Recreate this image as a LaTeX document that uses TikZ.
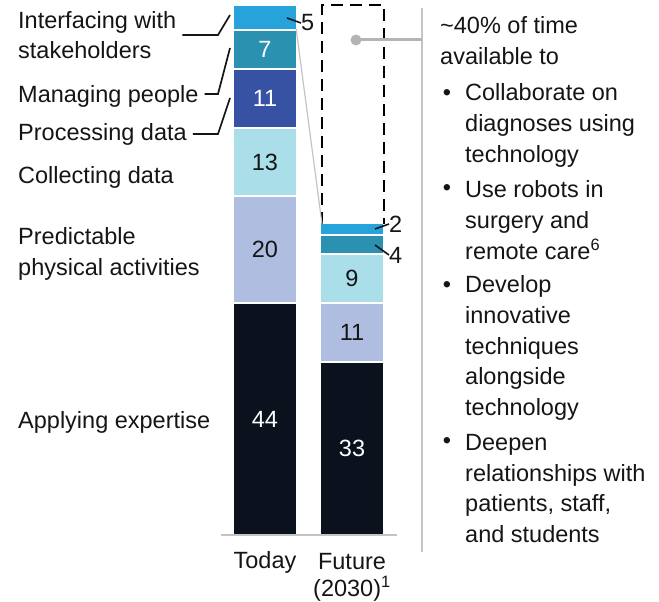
\documentclass[tikz,border=0pt]{standalone}
\usepackage{fontspec}
\setmainfont{Liberation Sans}

\definecolor{cfive}{HTML}{27A3DC}
\definecolor{cseven}{HTML}{2A91B1}
\definecolor{celeven}{HTML}{3852A3}
\definecolor{cthirteen}{HTML}{AADFEA}
\definecolor{ctwenty}{HTML}{AFBDE1}
\definecolor{cforty}{HTML}{0B121E}
\definecolor{ink}{HTML}{151515}
\definecolor{lightgray}{HTML}{C4C4C4}
\definecolor{dotgray}{HTML}{B4B4B4}

\begin{document}
\begin{tikzpicture}[x=1pt, y=-1pt,
	every node/.style={font=\fontsize{23.5}{30.7}\selectfont, text=ink},
	seg/.style={inner sep=0pt, minimum width=62pt, text=white},
	lbl/.style={anchor=west, align=left, inner sep=0pt},
	leader/.style={line width=1.7pt, ink},
	tick/.style={line width=1.6pt, ink}]

	\useasboundingbox (0,0) rectangle (659,602);

	% today
	\node[seg, fill=cforty, minimum height=230pt] (t44) at (265, 419) {44};
	\node[seg, fill=ctwenty, minimum height=105pt, text=ink] (t20) at (265, 249.5) {20};
	\node[seg, fill=cthirteen, minimum height=66pt, text=ink] (t13) at (265, 162) {13};
	\node[seg, fill=celeven, minimum height=57pt] (t11) at (265, 98.5) {11};
	\node[seg, fill=cseven, minimum height=37pt] (t7) at (265, 49.5) {7};
	\node[seg, fill=cfive, minimum height=23pt] (t5) at (265, 17.5) {};

	% future
	\node[seg, fill=cforty, minimum height=171pt] (f33) at (352, 448.5) {33};
	\node[seg, fill=ctwenty, minimum height=57pt, text=ink] (f11) at (352, 332.5) {11};
	\node[seg, fill=cthirteen, minimum height=47pt, text=ink] (f9) at (352, 278.5) {9};
	\node[seg, fill=cseven, minimum height=17pt] (f4) at (352, 244.5) {};
	\node[seg, fill=cfive, minimum height=10pt] (f2) at (352, 229) {};

	% freed time
	\coordinate (free-bl) at (322, 224);
	\coordinate (free-tl) at (322, 5);
	\coordinate (free-tr) at (384, 5);
	\coordinate (free-br) at (384, 224);
	\draw[line width=2.3pt, dash pattern=on 12pt off 7pt] (free-bl) -- (free-tl) -- (free-tr) -- (free-br);
	\draw[line width=1.2pt, lightgray] (t5.south east) -- (free-bl);

	% axis and divider
	\coordinate (axl) at (221, 535);
	\coordinate (axr) at (397, 535);
	\draw[line width=1.5pt, lightgray] (axl) -- (axr);
	\coordinate (septop) at (422, 8);
	\coordinate (sepbot) at (422, 552);
	\draw[line width=1.8pt, lightgray] (septop) -- (sepbot);
	\node[circle, fill=dotgray, inner sep=0pt, minimum size=11pt] (dot) at (356, 40) {};
	\draw[line width=3pt, dotgray] (dot.center) -- (dot -| septop);

	% small values
	\node[anchor=west, inner sep=0pt] (l5) at (301, 23) {5};
	\node[anchor=west, inner sep=0pt] (l2) at (389, 224) {2};
	\node[anchor=west, inner sep=0pt] (l4) at (389, 255) {4};
	\coordinate (t5tick) at (287, 18);
	\coordinate (f2tick) at (375, 229);
	\coordinate (f4tick) at (375, 245);
	\draw[tick] (t5tick) -- (l5.west);
	\draw[tick] (f2tick) -- (l2.west);
	\draw[tick] (f4tick) -- (l4.west);

	% left labels
	\node[lbl] (lifs) at (18, 35) {Interfacing with\\stakeholders};
	\node[lbl] (lmp) at (18, 96) {Managing people};
	\node[lbl] (lpd) at (18, 134) {Processing data};
	\node[lbl] (lcd) at (18, 177) {Collecting data};
	\node[lbl] (lpa) at (18, 254) {Predictable\\physical activities};
	\node[lbl] (lae) at (18, 422) {Applying expertise};

	\coordinate (knee) at (218, 0);
	\coordinate (ifs-end) at (230, 15);
	\coordinate (mp-end) at (230, 48);
	\coordinate (pd-end) at (230, 98);
	\draw[leader] ([xshift=6pt]lifs.east) -- (lifs.east -| knee) -- (ifs-end);
	\draw[leader] ([xshift=6pt, yshift=2pt]lmp.east) -- ([yshift=2pt]lmp.east -| knee) -- (mp-end);
	\draw[leader] ([xshift=6pt]lpd.east) -- (lpd.east -| knee) -- (pd-end);

	% bar names
	\node (today) at (265, 562) {Today};
	\node (future) at (352, 562) {Future};
	\node (year) at (352, 589) {(2030)\textsuperscript{1}};

	% right text
	\node[lbl] (head) at (440, 40.5) {\textasciitilde 40\% of time\\available to};
	\node (bul1) at (447, 95) {\textbullet};
	\node (bul2) at (447, 190) {\textbullet};
	\node (bul3) at (447, 287) {\textbullet};
	\node (bul4) at (447, 443) {\textbullet};
	\node[lbl] (txt1) at (465, 125.5) {Collaborate on\\diagnoses using\\technology};
	\node[lbl] (txt2) at (465, 220) {Use robots in\\surgery and\\remote care\textsuperscript{6}};
	\node[lbl] (txt3) at (465, 348) {Develop\\innovative\\techniques\\alongside\\technology};
	\node[lbl] (txt4) at (465, 488.5) {Deepen\\relationships with\\patients, staff,\\and students};

\end{tikzpicture}
\end{document}
